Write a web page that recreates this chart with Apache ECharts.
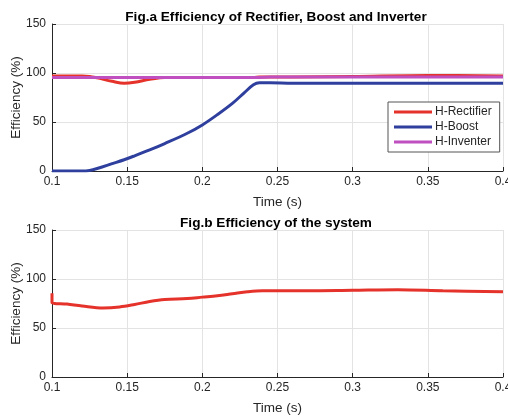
<!DOCTYPE html>
<html>
<head>
<meta charset="utf-8">
<script src="https://cdn.jsdelivr.net/npm/echarts@6/dist/echarts.min.js"></script>
<style>
  html, body { margin: 0; padding: 0; background: #fff; }
  #chart { width: 508px; height: 417px; }
</style>
</head>
<body>
<div id="chart"></div>
<script>
// 上图 时间轴 (s)
var timeA = [0.1, 0.11, 0.12, 0.125, 0.13, 0.14, 0.148, 0.155, 0.165, 0.175, 0.19, 0.2, 0.21, 0.22, 0.228, 0.234, 0.238, 0.245, 0.26, 0.3, 0.35, 0.4];
var rectifier = [97, 97, 97, 96.5, 95, 91.5, 89.5, 90.5, 93.5, 95.5, 95.5, 95.5, 95.5, 95.5, 95.5, 95.5, 96, 96, 96, 96.5, 97.5, 97];
var boost = [0, 0, 0, 0.6, 2.5, 7.5, 11.5, 15.5, 21.5, 28, 38.5, 47, 57.5, 69, 80, 88, 90, 90, 89.5, 89.5, 89.5, 89.5];
var inverter = [95.5, 95.5, 95.5, 95.5, 95.5, 95.5, 95.5, 95.5, 95.5, 95.5, 95.5, 95.5, 95.5, 95.5, 95.5, 95.5, 95.5, 95.8, 96, 96, 96, 96];

// 下图 系统效率
var timeB = [0.1, 0.1, 0.11, 0.12, 0.134, 0.145, 0.155, 0.165, 0.175, 0.19, 0.2, 0.21, 0.22, 0.23, 0.24, 0.27, 0.3, 0.33, 0.36, 0.4];
var system = [85.5, 76, 74.5, 72.5, 70.5, 71.5, 74, 77, 79, 80, 81.5, 83, 85, 87, 88, 88, 88.5, 89, 88, 87];

var seriesNames = ["H-Rectifier", "H-Boost", "H-Inventer"];
var colors = ["#e5322b", "#2f3f9e", "#c050c0"];

function pairs(xs, ys) {
  return xs.map(function(x, i){ return [x, ys[i]]; });
}

var font = "Liberation Sans, Arial, sans-serif";
var grids = [
  { left: 52, right: 5, top: 24, height: 147, outerBoundsMode: "none", containLabel: false },
  { left: 52, right: 5, top: 230, height: 147, outerBoundsMode: "none", containLabel: false }
];

function xAxis(idx) {
  return {
    type: "value", gridIndex: idx, min: 0.1, max: 0.4, interval: 0.05,
    name: "Time (s)", nameLocation: "middle", nameGap: 24, nameMoveOverlap: false,
    nameTextStyle: { fontFamily: font, fontSize: 13.5, color: "#262626" },
    axisLine: { show: true, lineStyle: { color: "#262626", width: 1 } },
    axisTick: { show: true, inside: true, length: 4, lineStyle: { color: "#262626" } },
    axisLabel: { fontFamily: font, fontSize: 12, color: "#262626", margin: 5,
      formatter: function(v){ return String(+v.toFixed(2)); } },
    splitLine: { show: true, lineStyle: { color: "#e3e3e3", width: 1 } }
  };
}
function yAxis(idx) {
  return {
    type: "value", gridIndex: idx, min: 0, max: 150, interval: 50,
    name: "Efficiency (%)", nameLocation: "middle", nameGap: 29, nameRotate: 90, nameMoveOverlap: false,
    nameTextStyle: { fontFamily: font, fontSize: 13.5, color: "#262626" },
    axisLine: { show: true, lineStyle: { color: "#262626", width: 1 } },
    axisTick: { show: true, inside: true, length: 4, lineStyle: { color: "#262626" } },
    axisLabel: { fontFamily: font, fontSize: 12, color: "#262626", margin: 6 },
    splitLine: { show: true, lineStyle: { color: "#e3e3e3", width: 1 } }
  };
}

function lineSeries(name, data, color, idx) {
  return {
    name: name, type: "line", xAxisIndex: idx, yAxisIndex: idx,
    data: data, showSymbol: false, symbol: "none",
    smooth: 0.35,
    lineStyle: { color: color, width: 3 },
    itemStyle: { color: color },
    animation: false
  };
}

var option = {
  animation: false,
  backgroundColor: "#fff",
  title: [
    { text: "Fig.a Efficiency of Rectifier, Boost and Inverter", left: 271, top: 5, textAlign: "center",
      textStyle: { fontFamily: font, fontSize: 13.6, fontWeight: "bold", color: "#000" } },
    { text: "Fig.b Efficiency of the system", left: 271, top: 211, textAlign: "center",
      textStyle: { fontFamily: font, fontSize: 13.6, fontWeight: "bold", color: "#000" } }
  ],
  legend: {
    data: seriesNames, orient: "vertical", left: 388, top: 102,
    icon: "rect", itemWidth: 38, itemHeight: 3, itemGap: 3,
    padding: [4, 8, 4, 6],
    backgroundColor: "#fff", borderColor: "#555", borderWidth: 1,
    textStyle: { fontFamily: font, fontSize: 12, color: "#262626", padding: [0, 0, 0, -2] }
  },
  grid: grids,
  xAxis: [xAxis(0), xAxis(1)],
  yAxis: [yAxis(0), yAxis(1)],
  series: [
    lineSeries(seriesNames[0], pairs(timeA, rectifier), colors[0], 0),
    lineSeries(seriesNames[1], pairs(timeA, boost), colors[1], 0),
    lineSeries(seriesNames[2], pairs(timeA, inverter), colors[2], 0),
    lineSeries("System", pairs(timeB, system), colors[0], 1)
  ]
};

var myChart = echarts.init(document.getElementById("chart"));
myChart.setOption(option);
</script>
</body>
</html>
